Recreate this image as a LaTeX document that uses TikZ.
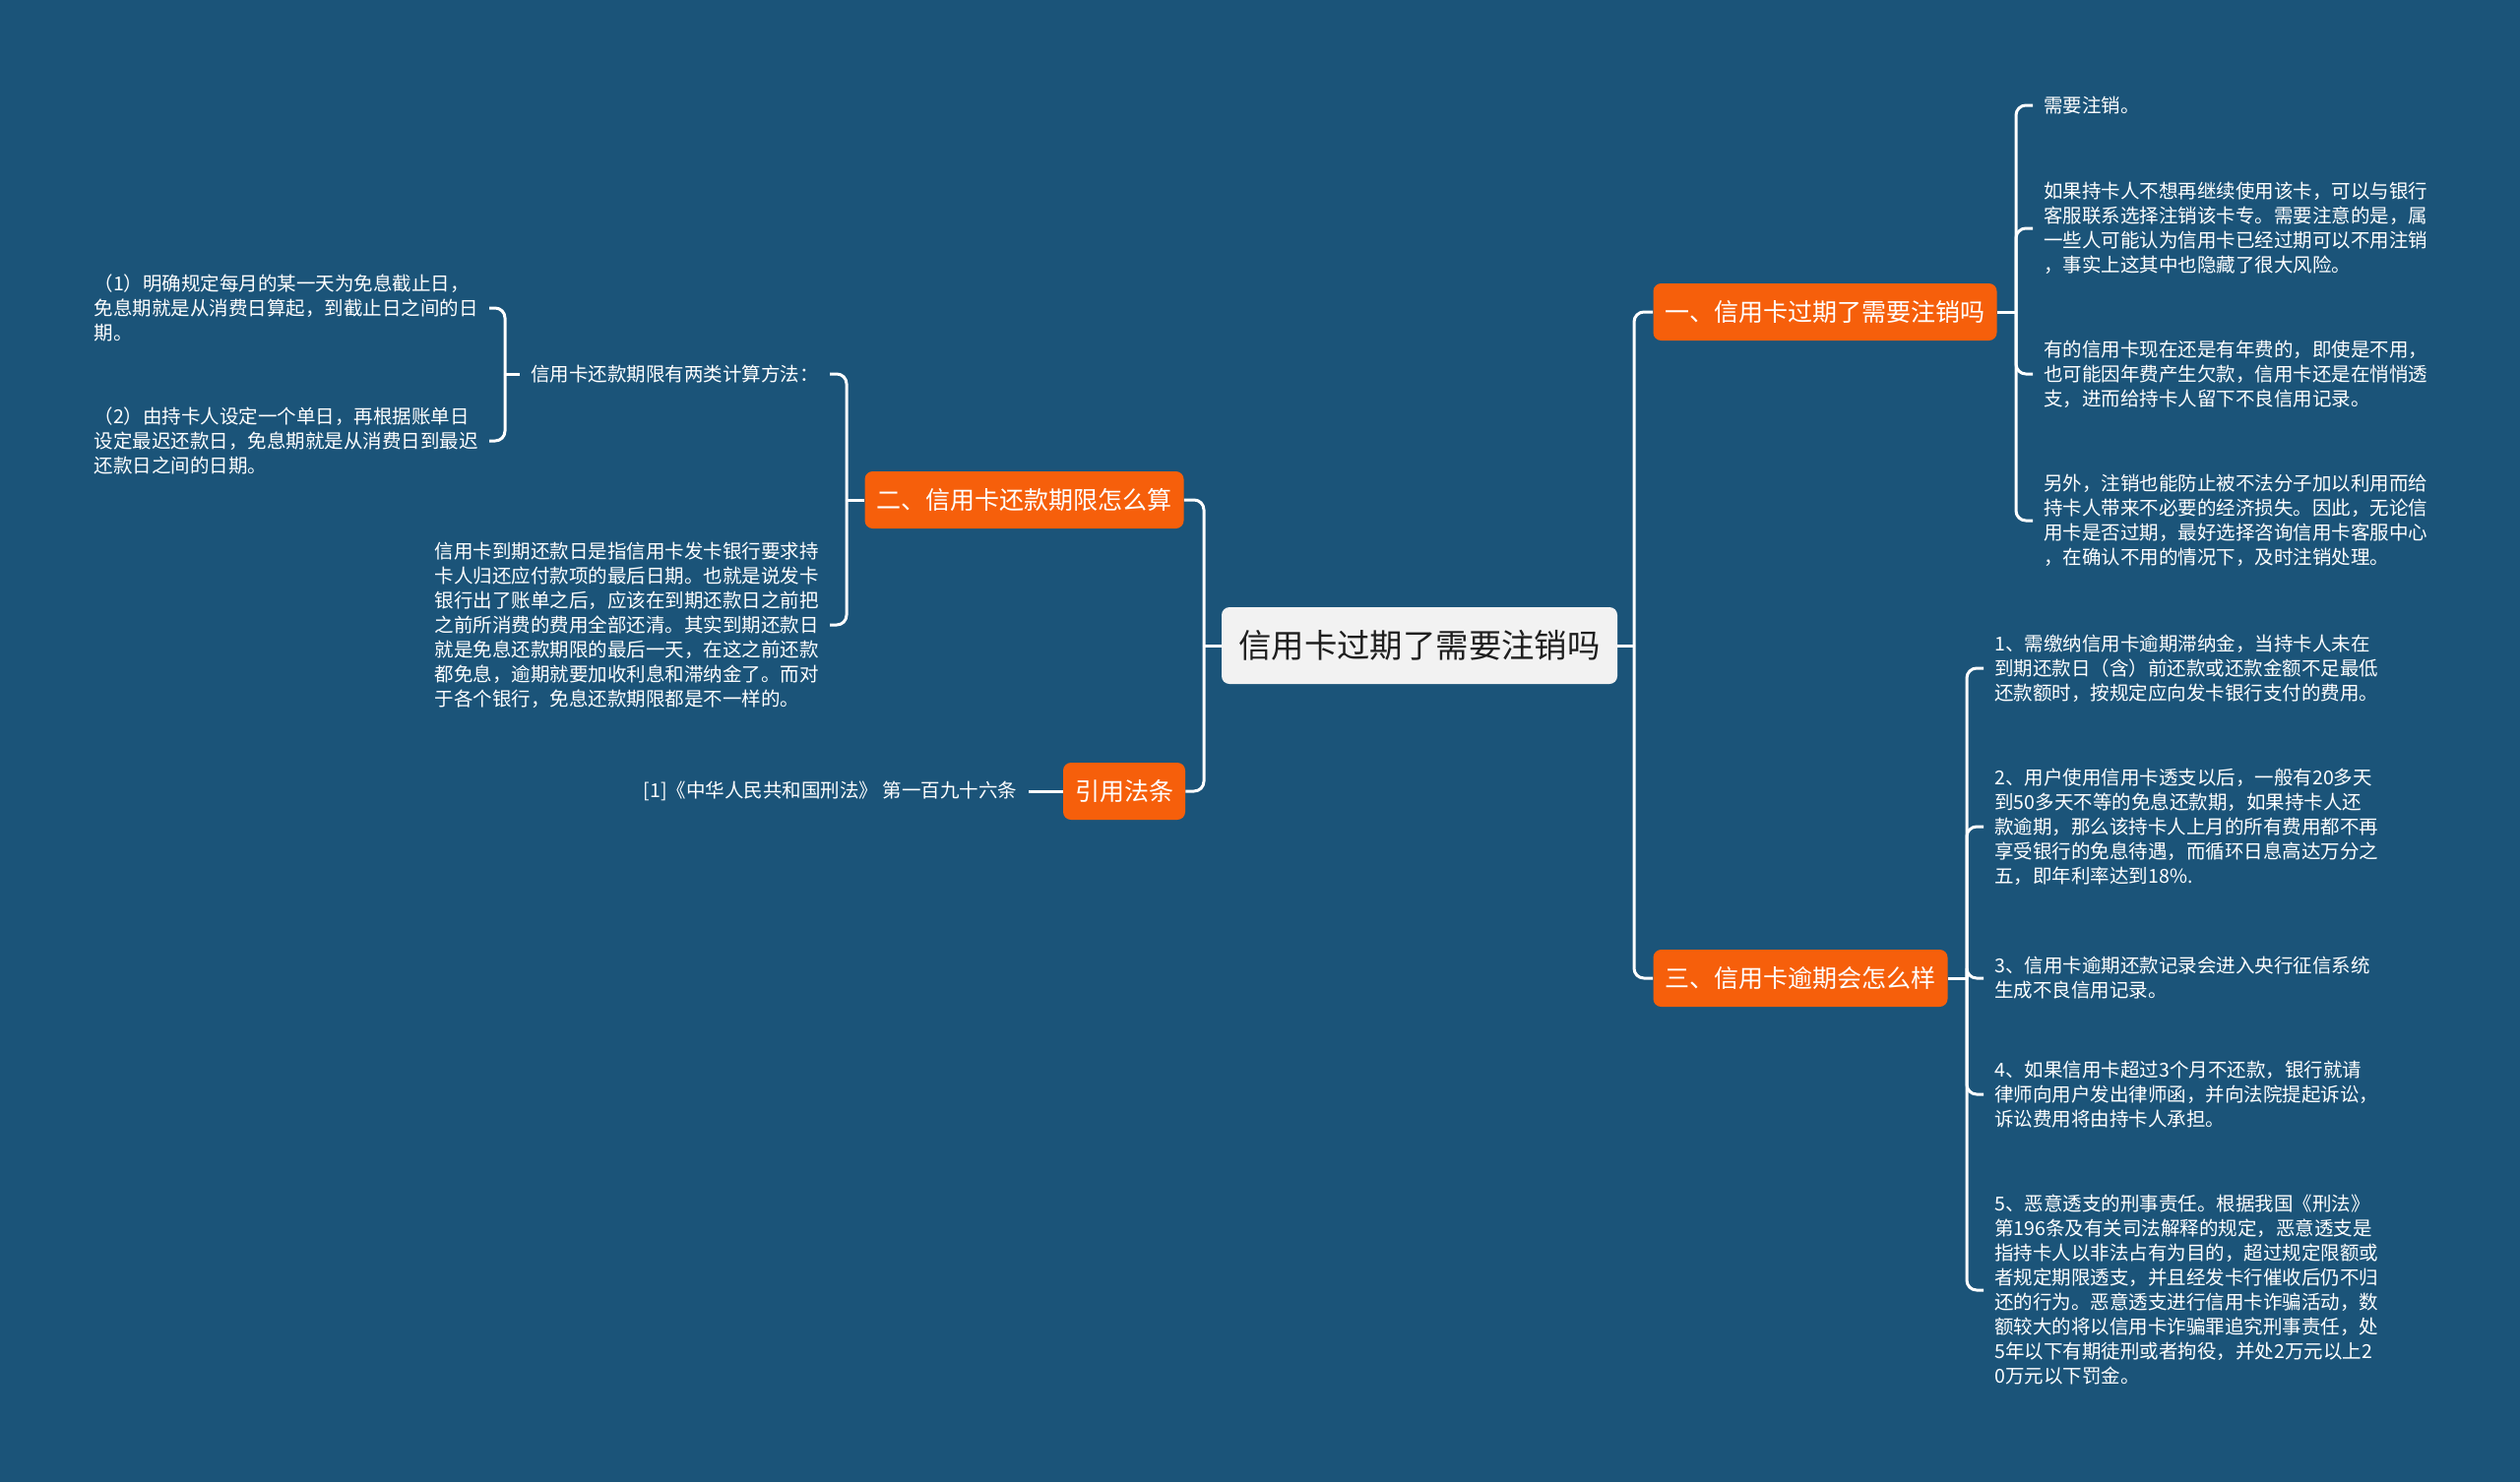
\documentclass[tikz,border=0pt]{standalone}
\usepackage{fontspec}
\setmainfont{Noto Sans CJK SC}
\usepackage{tikz}
\usetikzlibrary{positioning}
\definecolor{mmnavy}{HTML}{1B5479}
\definecolor{mmorange}{HTML}{F65F0B}
\definecolor{mmpaper}{HTML}{F2F2F2}
\definecolor{mmink}{HTML}{1E1E1E}

\begin{document}
\begin{tikzpicture}[
  x=0.5pt,y=-0.5pt,
  every node/.style={text=white},
  topic/.style={fill=mmpaper,text=mmink,rounded corners=4pt,minimum width=201pt,minimum height=39pt,font=\fontsize{16.7pt}{20pt}\selectfont},
  branch/.style={fill=mmorange,rounded corners=4pt,minimum height=29pt,inner xsep=6pt,font=\fontsize{12.5pt}{15pt}\selectfont},
  leaf/.style={align=left,inner xsep=5.5pt,inner ysep=2pt,font=\fontsize{9.75pt}{12.5pt}\selectfont},
  link/.style={draw=white,line width=1.5pt,rounded corners=5pt}
]
\fill[mmnavy] (0,0) rectangle (2560,1506);

\node[topic] (root) at (1442,656) {信用卡过期了需要注销吗};
\node[branch] (b1) at (1854,317) {一、信用卡过期了需要注销吗};
\node[branch] (b3) at (1829,994) {三、信用卡逾期会怎么样};
\node[branch] (b2) at (1040.5,508) {二、信用卡还款期限怎么算};
\node[branch] (law) at (1142,804) {引用法条};

% right side
\node[leaf,anchor=west] (n11) at (2065,107) {需要注销。};
\node[leaf,anchor=west] (n12) at (2065,232) {如果持卡人不想再继续使用该卡，可以与银行\\客服联系选择注销该卡专。需要注意的是，属\\一些人可能认为信用卡已经过期可以不用注销\\，事实上这其中也隐藏了很大风险。};
\node[leaf,anchor=west] (n13) at (2065,380) {有的信用卡现在还是有年费的，即使是不用，\\也可能因年费产生欠款，信用卡还是在悄悄透\\支，进而给持卡人留下不良信用记录。};
\node[leaf,anchor=west] (n14) at (2065,529) {另外，注销也能防止被不法分子加以利用而给\\持卡人带来不必要的经济损失。因此，无论信\\用卡是否过期，最好选择咨询信用卡客服中心\\，在确认不用的情况下，及时注销处理。};

\node[leaf,anchor=west] (n31) at (2015,679) {1、需缴纳信用卡逾期滞纳金，当持卡人未在\\到期还款日（含）前还款或还款金额不足最低\\还款额时，按规定应向发卡银行支付的费用。};
\node[leaf,anchor=west] (n32) at (2015,840) {2、用户使用信用卡透支以后，一般有20多天\\到50多天不等的免息还款期，如果持卡人还\\款逾期，那么该持卡人上月的所有费用都不再\\享受银行的免息待遇，而循环日息高达万分之\\五，即年利率达到18\%.};
\node[leaf,anchor=west] (n33) at (2015,994) {3、信用卡逾期还款记录会进入央行征信系统\\生成不良信用记录。};
\node[leaf,anchor=west] (n34) at (2015,1112) {4、如果信用卡超过3个月不还款，银行就请\\律师向用户发出律师函，并向法院提起诉讼，\\诉讼费用将由持卡人承担。};
\node[leaf,anchor=west] (n35) at (2015,1311) {5、恶意透支的刑事责任。根据我国《刑法》\\第196条及有关司法解释的规定，恶意透支是\\指持卡人以非法占有为目的，超过规定限额或\\者规定期限透支，并且经发卡行催收后仍不归\\还的行为。恶意透支进行信用卡诈骗活动，数\\额较大的将以信用卡诈骗罪追究刑事责任，处\\5年以下有期徒刑或者拘役，并处2万元以上2\\0万元以下罚金。};

% left side
\node[leaf,anchor=east] (q) at (843,380) {信用卡还款期限有两类计算方法：};
\node[leaf,anchor=east] (d) at (843,635) {信用卡到期还款日是指信用卡发卡银行要求持\\卡人归还应付款项的最后日期。也就是说发卡\\银行出了账单之后，应该在到期还款日之前把\\之前所消费的费用全部还清。其实到期还款日\\就是免息还款期限的最后一天，在这之前还款\\都免息，逾期就要加收利息和滞纳金了。而对\\于各个银行，免息还款期限都是不一样的。};
\node[leaf,anchor=east] (m1) at (497,313) {（1）明确规定每月的某一天为免息截止日，\\免息期就是从消费日算起，到截止日之间的日\\期。};
\node[leaf,anchor=east] (m2) at (497,448) {（2）由持卡人设定一个单日，再根据账单日\\设定最迟还款日，免息期就是从消费日到最迟\\还款日之间的日期。};
\node[leaf,left=17.5pt of law] (cite) {[1]《中华人民共和国刑法》 第一百九十六条};

\coordinate (sr) at (1660,656);
\coordinate (sl) at (1223,656);
\coordinate (s1) at (2048,317);
\coordinate (s3) at (1998,994);
\coordinate (s2) at (860,508);
\coordinate (sq) at (513,380);

\draw[link] (root.east) -- (sr);
\draw[link] (sr) |- (b1.west);
\draw[link] (sr) |- (b3.west);
\draw[link] (root.west) -- (sl);
\draw[link] (sl) |- (b2.east);
\draw[link] (sl) |- (law.east);
\draw[link] (b1.east) -- (s1);
\foreach \n in {n11,n12,n13,n14} \draw[link] (s1) |- (\n.west);
\draw[link] (b3.east) -- (s3);
\foreach \n in {n31,n32,n33,n34,n35} \draw[link] (s3) |- (\n.west);
\draw[link] (b2.west) -- (s2);
\draw[link] (s2) |- (q.east);
\draw[link] (s2) |- (d.east);
\draw[link] (q.west) -- (sq);
\draw[link] (sq) |- (m1.east);
\draw[link] (sq) |- (m2.east);
\draw[link] (law.west) -- (cite.east);
\end{tikzpicture}
\end{document}
